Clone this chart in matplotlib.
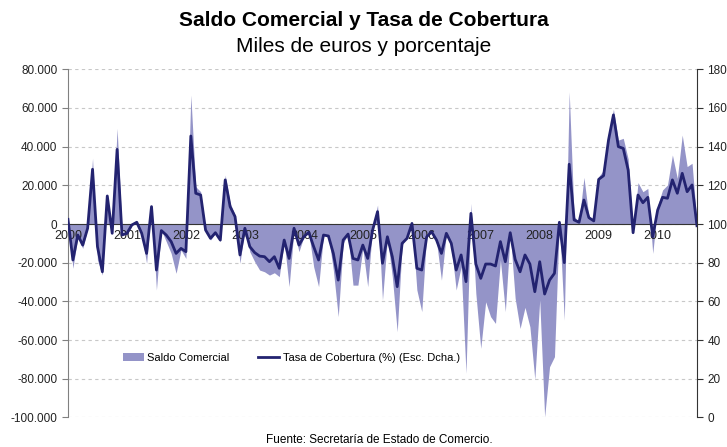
import numpy as np
import matplotlib.pyplot as plt
from matplotlib.ticker import FuncFormatter, MultipleLocator
from matplotlib.patches import Patch
from matplotlib.lines import Line2D

plt.rcParams['font.family'] = ['Liberation Sans', 'DejaVu Sans']

# monthly data, Jan 2000 - Sep 2010
saldo = [2.9, -22.9, -6.6, -12.6, -2.2, 34.0, -18.6, -26.4, 15.0, -4.0, 49.5, -3.1,
         -5.7, -0.5, 1.2, -5.7, -20.3, 9.8, -34.1, -3.1, -9.1, -15.2, -25.5, -13.4,
         -17.8, 66.7, 19.3, 16.7, -3.1, -8.3, -4.8, -9.1, 25.3, 10.7, 4.7, -20.3,
         -2.2, -14.3, -19.5, -23.8, -24.7, -26.4, -25.2, -27.2, -9.1, -32.4, -2.8, -14.3,
         -6.6, -4.5, -22.1, -32.4, -5.7, -6.2, -23.8, -47.9, -10.0, -5.2, -31.6, -31.6,
         -12.6, -32.4, -1.4, 9.8, -39.3, -7.4, -27.2, -55.7, -10.9, -6.6, 1.2, -34.1,
         -45.3, -4.8, -4.0, -9.1, -29.0, -4.8, -11.7, -34.1, -22.1, -77.2, 10.7, -35.9,
         -64.3, -40.2, -47.9, -51.4, -18.6, -45.3, -4.8, -38.4, -54.0, -43.1, -53.1, -80.3,
         -39.3, -99.7, -73.8, -68.6, 1.7, -49.7, 68.4, 3.8, 1.2, 24.1, 3.8, 1.6,
         24.5, 27.9, 47.2, 59.3, 43.4, 44.3, 33.6, -4.8, 21.4, 16.7, 18.4, -15.2,
         9.5, 17.6, 20.2, 35.7, 23.6, 46.0, 29.7, 31.4, 0.3]
saldo = np.array(saldo) * 1000  # miles de euros

tasa = [102.4, 81.4, 94.3, 89.1, 97.8, 128.3, 88.3, 75.3, 114.5, 95.2, 138.6, 94.3,
        95.2, 99.5, 100.9, 95.2, 84.8, 109.0, 76.2, 96.6, 94.3, 90.9, 84.8, 87.4,
        85.7, 145.5, 115.9, 115.0, 96.9, 92.6, 95.5, 91.7, 122.8, 109.0, 103.8, 84.0,
        97.8, 88.3, 85.2, 83.4, 83.1, 80.5, 83.1, 77.1, 91.7, 82.2, 97.8, 89.1,
        93.4, 95.7, 88.3, 81.4, 94.3, 93.8, 84.8, 71.0, 91.7, 94.8, 82.2, 81.4,
        89.1, 82.2, 96.9, 106.4, 79.7, 93.4, 83.1, 67.6, 90.0, 92.6, 100.3, 77.1,
        76.2, 93.4, 96.0, 91.7, 84.8, 95.2, 90.0, 76.2, 84.0, 70.2, 105.5, 79.3,
        71.9, 79.3, 79.3, 78.3, 90.9, 80.5, 95.5, 81.7, 75.3, 84.0, 79.3, 65.0,
        80.5, 63.8, 71.0, 74.5, 100.9, 80.0, 130.9, 102.1, 100.9, 112.4, 103.3, 101.6,
        123.1, 125.0, 143.4, 156.4, 140.0, 139.1, 127.9, 95.5, 115.0, 111.0, 113.8, 93.4,
        107.2, 113.8, 113.3, 122.8, 115.9, 126.2, 116.7, 120.2, 99.1]

years = ['2000', '2001', '2002', '2003', '2004', '2005', '2006', '2007', '2008', '2009', '2010']

x = np.arange(len(saldo))
area_color = '#9494c8'
line_color = '#232370'

fig = plt.figure(figsize=(7.27, 4.47), dpi=100)
ax = fig.add_axes([0.0935, 0.0662, 0.8652, 0.7788])

ax.set_xlim(0, len(saldo) - 1)
ax.set_ylim(-100000, 80000)
ax.yaxis.set_major_locator(MultipleLocator(20000))
ax.yaxis.set_major_formatter(FuncFormatter(lambda v, p: f"{v:,.0f}".replace(',', '.')))

# gridlines behind the area, tick labels above it
ax.hlines(np.arange(-100000, 80001, 20000), 0, len(saldo) - 1, color='#c8c8c8',
          linestyle=(0, (3, 3)), linewidth=0.8, zorder=0)
ax.fill_between(x, 0, saldo, color=area_color, linewidth=0, zorder=1)

# category axis crosses at zero
ax.spines['bottom'].set_position(('data', 0))
ax.spines['bottom'].set_color('#333333')
ax.spines['top'].set_visible(False)
ax.spines['right'].set_visible(False)
ax.spines['left'].set_color('#808080')
ax.set_xticks(np.arange(len(years)) * 12)
ax.set_xticklabels(years)
ax.tick_params(axis='x', length=0, pad=4, labelsize=9, colors='#222222')
ax.tick_params(axis='y', length=4, direction='out', color='#808080', labelsize=8.5,
               labelcolor='#222222')

ax2 = ax.twinx()
ax2.plot(x, tasa, color=line_color, linewidth=2)
ax2.set_ylim(0, 180)
ax2.yaxis.set_major_locator(MultipleLocator(20))
ax2.spines['top'].set_visible(False)
ax2.spines['left'].set_visible(False)
ax2.spines['bottom'].set_visible(False)
ax2.spines['right'].set_color('#333333')
ax2.tick_params(axis='y', length=4, direction='out', color='#333333', labelsize=8.5,
                labelcolor='#222222')

handles = [Patch(facecolor=area_color, edgecolor='none'),
           Line2D([0], [0], color=line_color, linewidth=2)]
ax2.legend(handles, ['Saldo Comercial', 'Tasa de Cobertura (%) (Esc. Dcha.)'],
           loc='center', bbox_to_anchor=(0.355, 0.171), ncol=2, frameon=False,
           fontsize=8, handlelength=1.9, handleheight=0.8, columnspacing=2.6,
           handletextpad=0.3)

fig.text(0.5, 0.955, 'Saldo Comercial y Tasa de Cobertura', ha='center', va='center',
         fontsize=15, fontweight='bold')
fig.text(0.5, 0.897, 'Miles de euros y porcentaje', ha='center', va='center', fontsize=15)
fig.text(0.522, 0.015, 'Fuente: Secretaría de Estado de Comercio.', ha='center',
         va='center', fontsize=8.5)

fig.savefig('out.png', dpi=100)
